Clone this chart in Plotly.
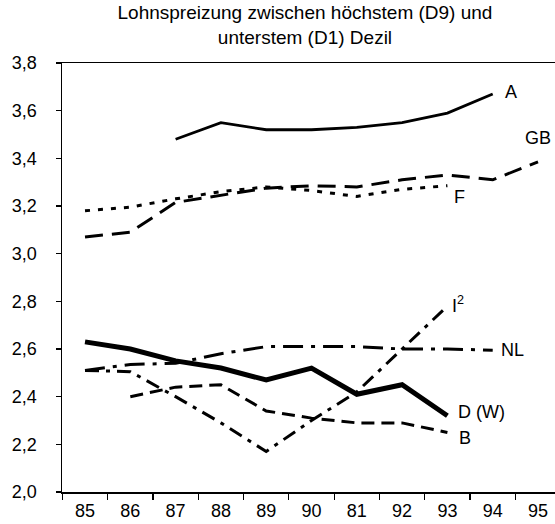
import plotly.graph_objects as go

# Category labels (the original prints "81" instead of "91")
years = ["85", "86", "87", "88", "89", "90", "81", "92", "93", "94", "95"]

A = [None, None, 3.48, 3.55, 3.52, 3.52, 3.53, 3.55, 3.59, 3.67, None]
GB = [3.07, 3.09, 3.215, 3.245, 3.275, 3.285, 3.28, 3.31, 3.33, 3.31, 3.385]
F = [3.18, 3.195, 3.23, 3.26, 3.28, 3.265, 3.24, 3.27, 3.285, None, None]
NL = [2.51, 2.535, 2.54, 2.58, 2.61, 2.61, 2.61, 2.60, 2.60, 2.595, None]
I2 = [2.51, 2.505, 2.40, 2.29, 2.17, 2.30, 2.42, 2.60, 2.78, None, None]
DW = [2.63, 2.60, 2.55, 2.52, 2.47, 2.52, 2.41, 2.45, 2.32, None, None]
B = [None, 2.40, 2.44, 2.45, 2.34, 2.31, 2.29, 2.29, 2.25, None, None]

series = [
    # name, values, label text, width, dash, xshift, yshift, xanchor
    ("A", A, "A", 2.8, "solid", 10, 2, "left"),
    ("GB", GB, "GB", 3, "18px,9px", 0, 24, "center"),
    ("F", F, "F", 3, "5px,8px", 5, -11, "left"),
    ("NL", NL, "NL", 3, "20px,8px,4px,8px", 6, 0, "left"),
    ("I2", I2, "I<sup>2</sup>", 3, "14px,7px,4px,7px", 3, 2, "left"),
    ("D (W)", DW, "D (W)", 5, "solid", 9, 4, "left"),
    ("B", B, "B", 3, "13px,7px", 10, -6, "left"),
]

FONT = "Liberation Sans, Arial, sans-serif"

fig = go.Figure()
annotations = []
for name, vals, label, w, dash, xs, ys, xa in series:
    fig.add_trace(go.Scatter(
        x=years, y=vals, mode="lines", name=name,
        line=dict(color="black", width=w, dash=dash),
        connectgaps=False, showlegend=False, hoverinfo="skip",
    ))
    last = max(i for i, v in enumerate(vals) if v is not None)
    annotations.append(dict(
        x=last, y=vals[last], text=label, showarrow=False,
        xanchor=xa, yanchor="middle", xshift=xs, yshift=ys,
        font=dict(family=FONT, size=18, color="black"),
    ))

fig.update_layout(
    width=555, height=524,
    margin=dict(l=62, r=0, t=63, b=32),
    paper_bgcolor="white", plot_bgcolor="white",
    separators=",.",
    font=dict(family=FONT, size=18, color="black"),
    title=dict(
        text="Lohnspreizung zwischen höchstem (D9) und<br>unterstem (D1) Dezil",
        x=0.5495, xanchor="center", y=0.964, yanchor="top",
        font=dict(family=FONT, size=19, color="black"),
    ),
    annotations=annotations,
    xaxis=dict(
        type="category", categoryorder="array", categoryarray=years,
        range=[-0.508, 10.375], tickson="boundaries",
        ticks="outside", ticklen=6, tickwidth=1.2, tickcolor="black",
        showline=True, linecolor="black", linewidth=1.5, mirror=True,
        showgrid=False, zeroline=False, ticklabelstandoff=2,
        tickfont=dict(family=FONT, size=18, color="black"),
    ),
    yaxis=dict(
        range=[2.0, 3.8], dtick=0.2, tick0=2.0, tickformat=".1f",
        ticks="outside", ticklen=5, tickwidth=1.2, tickcolor="black",
        showline=True, linecolor="black", linewidth=1.5,
        showgrid=False, zeroline=False, ticklabelstandoff=15,
        tickfont=dict(family=FONT, size=18, color="black"),
    ),
)

fig.write_html(
    "out.html",
    config={"displayModeBar": False, "staticPlot": True},
    post_script="document.body.style.margin='0px';"
                "document.documentElement.style.overflow='hidden';",
)
